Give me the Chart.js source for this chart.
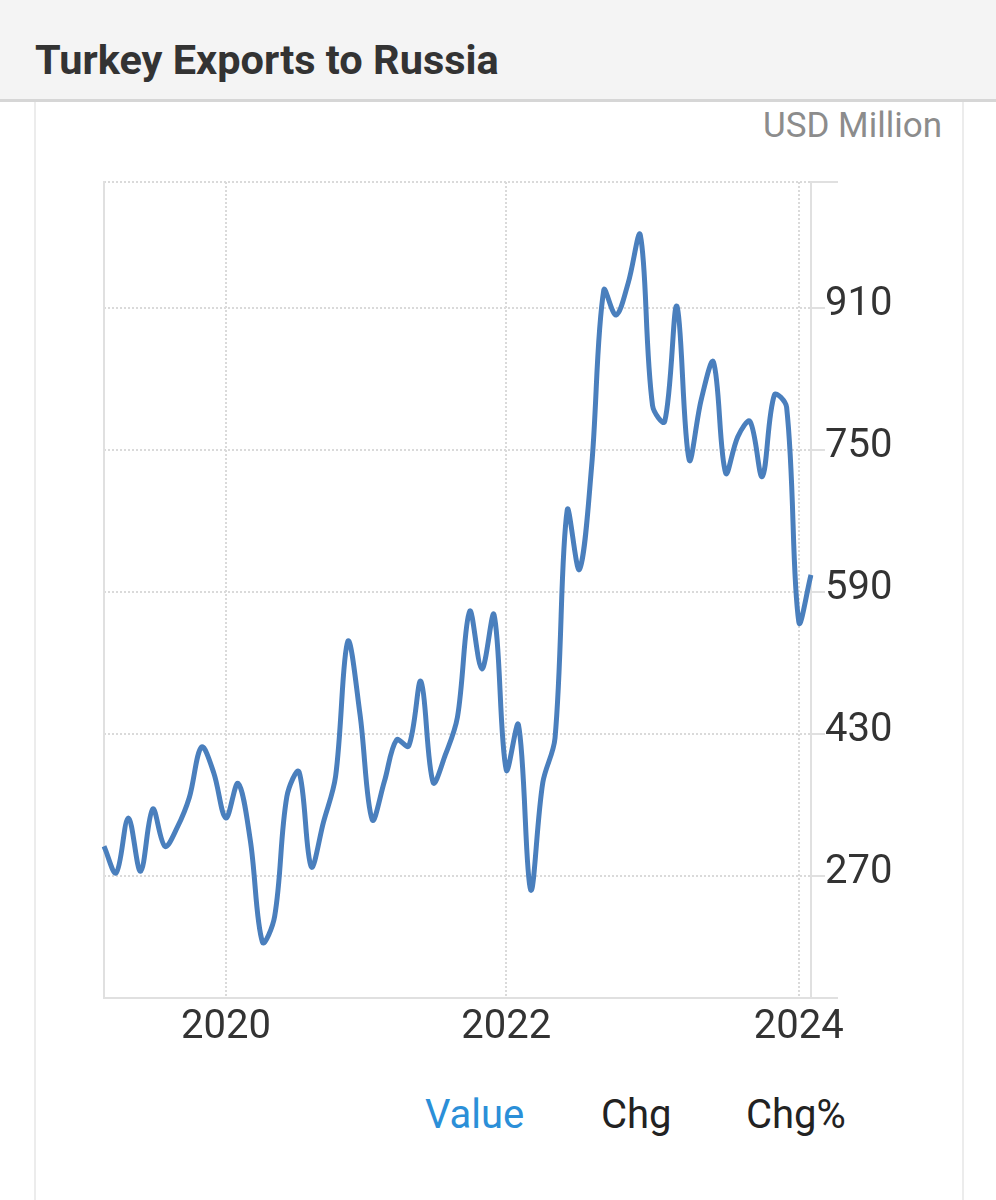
<!DOCTYPE html>
<html>
<head>
<meta charset="utf-8">
<script src="https://cdn.jsdelivr.net/npm/chart.js"></script>
<style>
  body { margin: 0; width: 996px; height: 1200px; background: #fff; font-family: Roboto, "Noto Sans", sans-serif; position: relative; overflow: hidden; }
  #header { position: absolute; left: 0; top: 0; width: 996px; height: 99px; background: #f4f4f4; border-bottom: 3px solid #d6d6d6; }
  #title { position: absolute; left: 35px; top: 39px; font-size: 41.5px; line-height: 42px; font-weight: 700; color: #333; white-space: nowrap; }
  #card { position: absolute; left: 34px; top: 102px; width: 926px; height: 1098px; border-left: 2px solid #ececec; border-right: 2px solid #ececec; }
  #unit { position: absolute; right: 54px; top: 108px; font-size: 35px; line-height: 35px; color: #8c8c8c; white-space: nowrap; }
  #wrap { position: absolute; left: 0; top: 102px; width: 996px; height: 968px; }
  .tab { position: absolute; top: 1095px; font-size: 40px; line-height: 40px; color: #222; white-space: nowrap; }
</style>
</head>
<body>
<div id="header"><div id="title">Turkey Exports to Russia</div></div>
<div id="card"></div>
<div id="unit">USD Million</div>
<div id="wrap"><canvas id="chart"></canvas></div>
<div class="tab" style="left:425px;color:#2b8fd8;">Value</div>
<div class="tab" style="left:601px;">Chg</div>
<div class="tab" style="left:746px;">Chg%</div>
<script>
// monthly points (one month missing in the source between 2020 and 2022)
const months = [
  '2019-03','2019-04','2019-05','2019-06','2019-07','2019-08','2019-09','2019-10','2019-11','2019-12',
  '2020-01','2020-02','2020-03','2020-04','2020-05','2020-06','2020-07','2020-08','2020-09','2020-10','2020-11','2020-12',
  '2021-01','2021-02','2021-03','2021-04','2021-05','2021-06','2021-08','2021-09','2021-10','2021-11','2021-12',
  '2022-01','2022-02','2022-03','2022-04','2022-05','2022-06','2022-07','2022-08','2022-09','2022-10','2022-11','2022-12',
  '2023-01','2023-02','2023-03','2023-04','2023-05','2023-06','2023-07','2023-08','2023-09','2023-10','2023-11','2023-12',
  '2024-01','2024-02'
];
const exportsValue = [
  303, 273, 335, 275, 345, 303, 324, 358, 415, 386,
  335, 374, 310, 195, 224, 359, 387, 280, 330, 382, 534, 452,
  333, 376, 423, 416, 489, 375, 406, 449, 568, 503, 564,
  389, 440, 254, 375, 425, 682, 615, 731, 930, 902, 938, 992,
  800, 782, 912, 739, 807, 849, 724, 765, 782, 720, 812, 798,
  556, 609
];
const yearTicks = ['2020-01', '2022-01', '2024-01'];
const yearLabels = ['2020', '2022', '2024'];
const yTickValues = [270, 430, 590, 750, 910];
const yMin = 132;
const yMax = 1052;

const gridGray = '#dadada';
const lineGray = '#e0e0e0';

// extends the top line and the x-axis line past the right axis
const edgeTicks = {
  id: 'edgeTicks',
  afterDraw(chart) {
    const { ctx, chartArea } = chart;
    ctx.save();
    ctx.strokeStyle = lineGray;
    ctx.lineWidth = 2;
    ctx.beginPath();
    ctx.moveTo(chartArea.right, chartArea.top);
    ctx.lineTo(chartArea.right + 27, chartArea.top);
    ctx.moveTo(chartArea.right, chartArea.bottom);
    ctx.lineTo(chartArea.right + 27, chartArea.bottom);
    ctx.stroke();
    ctx.restore();
  }
};

new Chart(document.getElementById('chart'), {
  type: 'line',
  data: {
    labels: months,
    datasets: [{
      label: 'Value',
      data: exportsValue,
      borderColor: '#4a7fbd',
      borderWidth: 5,
      pointRadius: 0,
      tension: 0.35,
      fill: false,
      yAxisID: 'y'
    }]
  },
  options: {
    responsive: true,
    maintainAspectRatio: false,
    animation: false,
    layout: { padding: { left: 104, top: 80, right: 0, bottom: 0 } },
    plugins: { legend: { display: false }, tooltip: { enabled: false } },
    scales: {
      x: {
        type: 'category',
        offset: false,
        afterBuildTicks: (scale) => {
          scale.ticks = yearTicks.map(m => ({ value: months.indexOf(m) }));
        },
        afterFit: (scale) => { scale.height = 72; },
        ticks: {
          autoSkip: false,
          maxRotation: 0,
          padding: 6,
          color: '#333',
          font: { family: 'Roboto', size: 40 },
          callback: (value) => yearLabels[yearTicks.indexOf(months[value])]
        },
        grid: { color: gridGray, lineWidth: 2, drawTicks: false },
        border: { color: lineGray, width: 2, dash: [2, 2] }
      },
      y: {
        position: 'right',
        min: yMin,
        max: yMax,
        afterBuildTicks: (scale) => {
          scale.ticks = [yMin, ...yTickValues, yMax].map(v => ({ value: v }));
        },
        afterFit: (scale) => { scale.width = 185; },
        ticks: {
          padding: 0,
          labelOffset: -3,
          color: '#333',
          font: { family: 'Roboto', size: 40 },
          callback: (value) => yTickValues.includes(value) ? String(value) : ''
        },
        grid: { color: gridGray, lineWidth: 2, tickLength: 14, tickColor: lineGray, tickWidth: 2 },
        border: { color: lineGray, width: 2, dash: [2, 2] }
      },
      yLeft: {
        position: 'left',
        display: true,
        afterFit: (scale) => { scale.width = 0; },
        ticks: { display: false },
        grid: { drawOnChartArea: false, drawTicks: false },
        border: { color: lineGray, width: 2 }
      }
    }
  },
  plugins: [edgeTicks]
});
</script>
</body>
</html>
